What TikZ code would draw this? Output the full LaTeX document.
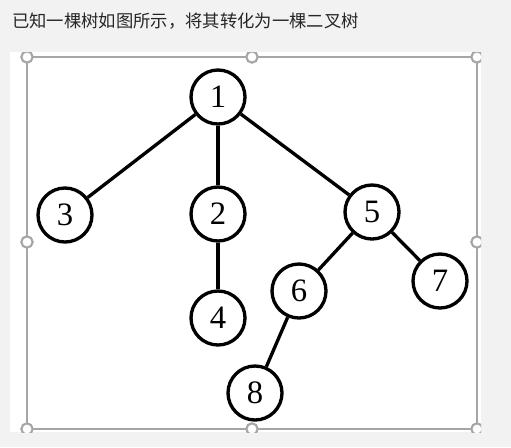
\documentclass[tikz,border=0pt]{standalone}
\usepackage{fontspec}
\setmainfont{Liberation Serif}
\newfontfamily\cjk{Noto Sans CJK SC}
\definecolor{bgcol}{HTML}{F2F2F2}
\definecolor{framecol}{HTML}{A6A6A6}
\definecolor{txtcol}{HTML}{262626}
\tikzset{
  treenode/.style={circle,draw=black,line width=2.5pt,fill=white,minimum size=40.5pt,inner sep=0pt,font=\fontsize{24.5pt}{24.5pt}\selectfont},
  treeedge/.style={line width=2.5pt,black},
  handle/.style={circle,draw=framecol,line width=1.6pt,fill=white,minimum size=8.5pt,inner sep=0pt},
  framebox/.style={draw=framecol,line width=1.1pt}
}
\begin{document}
\begin{tikzpicture}[x=0.75pt,y=-0.75pt]
\useasboundingbox (0,0) rectangle (511,447);
\fill[bgcol] (0,0) rectangle (511,447);
\node[anchor=west,text=txtcol,inner sep=0pt,font=\cjk\fontsize{13pt}{15pt}\selectfont] (title) at (12,21) {已知一棵树如图所示，将其转化为一棵二叉树};
\fill[white] (10,52) rectangle (481,432);
\begin{scope}
\clip (10,52) rectangle (481,432);
\draw[framebox] (27,57) rectangle (477,429);
\node[handle] (h1) at (27,57) {};
\node[handle] (h2) at (252,57) {};
\node[handle] (h3) at (477,57) {};
\node[handle] (h4) at (27,242) {};
\node[handle] (h5) at (477,242) {};
\node[handle] (h6) at (27,429) {};
\node[handle] (h7) at (252,429) {};
\node[handle] (h8) at (477,429) {};
\end{scope}
\node[treenode] (n1) at (218,97) {1};
\node[treenode] (n3) at (65,215) {3};
\node[treenode] (n2) at (218,214) {2};
\node[treenode] (n5) at (372,212) {5};
\node[treenode] (n7) at (440,281) {7};
\node[treenode] (n6) at (299,291) {6};
\node[treenode] (n4) at (218,318) {4};
\node[treenode] (n8) at (255,393) {8};
\draw[treeedge] (n1) -- (n3);
\draw[treeedge] (n1) -- (n2);
\draw[treeedge] (n1) -- (n5);
\draw[treeedge] (n2) -- (n4);
\draw[treeedge] (n5) -- (n6);
\draw[treeedge] (n5) -- (n7);
\draw[treeedge] (n6) -- (n8);
\end{tikzpicture}
\end{document}
